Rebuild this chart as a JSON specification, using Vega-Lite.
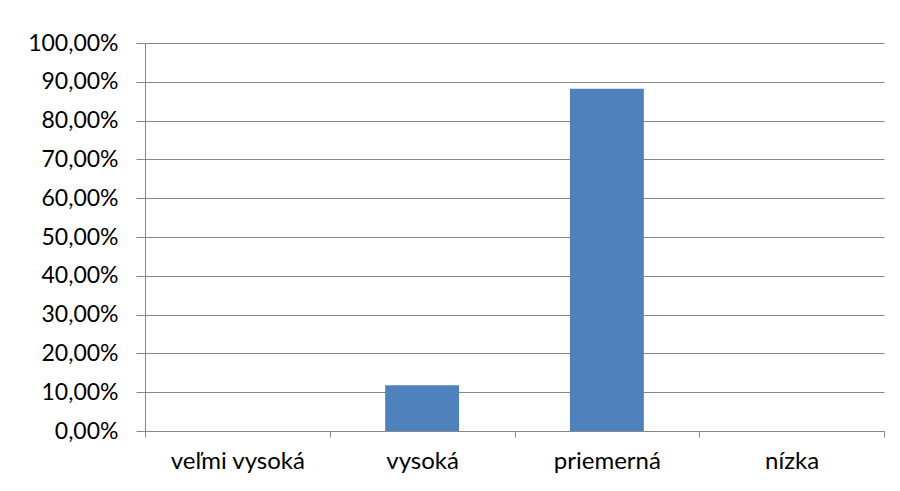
{
  "$schema": "https://vega.github.io/schema/vega-lite/v6.json",
  "autosize": "none",
  "width": 739,
  "height": 388,
  "padding": {"left": 145, "top": 43, "right": 16, "bottom": 60},
  "background": "white",
  "config": {"view": {"stroke": null}, "font": "Lato"},
  "data": {"values": [
    {"kategoria": "veľmi vysoká", "podiel": 0},
    {"kategoria": "vysoká", "podiel": 0.1176},
    {"kategoria": "priemerná", "podiel": 0.8824},
    {"kategoria": "nízka", "podiel": 0}
  ]},
  "mark": {"type": "bar", "color": "#4F81BD", "width": {"band": 0.4}},
  "encoding": {
    "x": {
      "field": "kategoria", "type": "nominal", "sort": null, "title": null,
      "scale": {"paddingInner": 0, "paddingOuter": 0},
      "axis": {
        "labelAngle": 0, "labelFontSize": 24, "labelColor": "#000000", "labelFont": "Lato",
        "labelFontWeight": "normal",
        "labelPadding": 12, "domainColor": "#878787", "tickColor": "#878787",
        "tickSize": 6, "tickBand": "extent", "grid": false
      }
    },
    "y": {
      "field": "podiel", "type": "quantitative", "title": null,
      "scale": {"domain": [0, 1], "nice": false},
      "axis": {
        "values": [0, 0.1, 0.2, 0.3, 0.4, 0.5, 0.6, 0.7, 0.8, 0.9, 1],
        "labelExpr": "replace(format(datum.value, '.2%'), '.', ',')",
        "labelFontSize": 23, "labelColor": "#000000", "labelFont": "Lato",
        "labelFontWeight": "normal",
        "labelPadding": 18, "tickSize": 9, "tickColor": "#878787",
        "domainColor": "#878787", "gridColor": "#878787", "grid": true
      }
    }
  }
}
